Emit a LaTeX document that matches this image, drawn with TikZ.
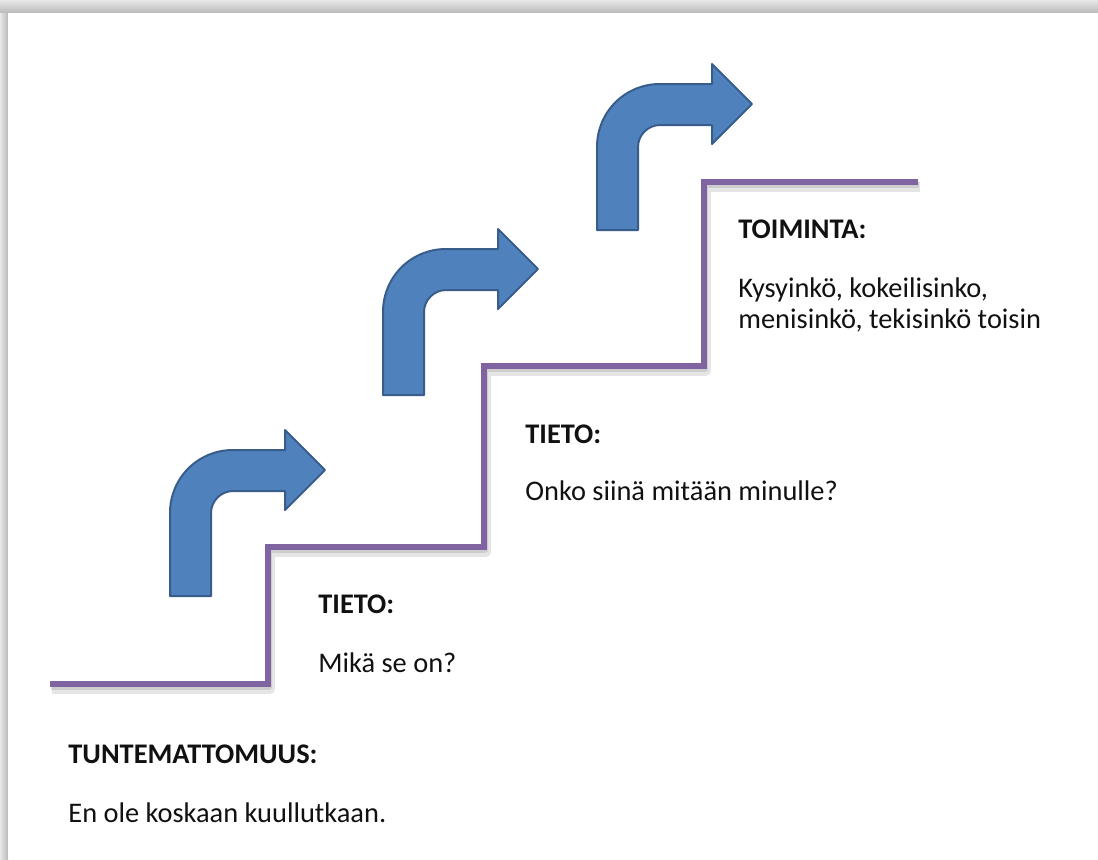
\documentclass[tikz,border=0pt]{standalone}
\usepackage{fontspec}
\setmainfont{Carlito}
\definecolor{arrowblue}{HTML}{4F81BD}
\definecolor{arrowedge}{HTML}{385D8A}
\definecolor{stairpurple}{HTML}{8064A2}
\definecolor{textdark}{HTML}{111111}
\newcommand\bentarrow[2]{%
  \begin{scope}[shift={(#1,#2)}]
    \draw[bentstyle] (0,0) -- (41,0) -- (41,-83)
      .. controls (41,-95) and (51,-105) .. (63,-105)
      -- (115,-105) -- (115,-86) -- (155,-126) -- (115,-166) -- (115,-146)
      -- (63,-146) .. controls (28,-146) and (0,-118) .. (0,-83) -- cycle;
  \end{scope}}
\tikzset{
  bentstyle/.style={fill=arrowblue, draw=arrowedge, line width=1pt, line join=round},
  stairline/.style={draw=stairpurple, line width=3pt, line join=miter},
  stairshadow/.style={draw=black, opacity=0.10, line width=5pt, line join=round},
  headtext/.style={font=\fontsize{14.2}{17}\selectfont\bfseries, text=textdark, inner sep=0pt, anchor=base west},
  bodytext/.style={font=\fontsize{14.2}{17}\selectfont, text=textdark, inner sep=0pt, anchor=base west},
}
\begin{document}
\begin{tikzpicture}[x=0.5pt,y=-0.5pt]
\useasboundingbox (0,0) rectangle (1098,859);
% page with shadow
\fill[gray!30] (0,0) rectangle (1098,859);
\shade[top color=gray!18, bottom color=gray!55] (0,0) rectangle (1098,13);
\shade[left color=gray!18, right color=gray!55] (0,13) rectangle (8,859);
\fill[white] (8,13) rectangle (1098,859);
% staircase
\coordinate (s0) at (50,684);
\coordinate (s1) at (268,684);
\coordinate (s2) at (268,547);
\coordinate (s3) at (484,547);
\coordinate (s4) at (484,366);
\coordinate (s5) at (704,366);
\coordinate (s6) at (704,182);
\coordinate (s7) at (918,182);
\begin{scope}[shift={(2,5)}]
\draw[stairshadow] (50,684) -- (268,684) -- (268,547) -- (484,547) -- (484,366) -- (704,366) -- (704,182) -- (918,182);
\end{scope}
\begin{scope}[shift={(1,3)}]
\draw[stairshadow, line width=3pt] (50,684) -- (268,684) -- (268,547) -- (484,547) -- (484,366) -- (704,366) -- (704,182) -- (918,182);
\end{scope}
\draw[stairline] (s0) -- (s1) -- (s2) -- (s3) -- (s4) -- (s5) -- (s6) -- (s7);
% arrows
\bentarrow{170}{596}
\bentarrow{383}{395}
\bentarrow{597}{230}
% texts
\node[headtext] (h0) at (68,763) {TUNTEMATTOMUUS:};
\node[bodytext] (b0) at (68,822) {En ole koskaan kuullutkaan.};
\node[headtext] (h1) at (318,613) {TIETO:};
\node[bodytext] (b1) at (318,672) {Mikä se on?};
\node[headtext] (h2) at (525,443) {TIETO:};
\node[bodytext] (b2) at (525,500) {Onko siinä mitään minulle?};
\node[headtext] (h3) at (738,238) {TOIMINTA:};
\node[bodytext] (b3) at (738,297) {Kysyinkö, kokeilisinko,};
\node[bodytext] (b4) at (738,328) {menisinkö, tekisinkö toisin};
\end{tikzpicture}
\end{document}
